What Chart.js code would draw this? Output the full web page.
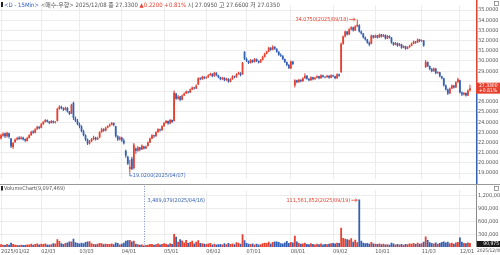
<!DOCTYPE html>
<html><head><meta charset="utf-8">
<script src="https://cdn.jsdelivr.net/npm/chart.js@4.4.1/dist/chart.umd.min.js"></script>
<style>
html,body{margin:0;padding:0;background:#fff;}
#wrap{position:relative;width:500px;height:255px;overflow:hidden;background:#fff;}
#pc{position:absolute;left:0;top:0;}
#vc{position:absolute;left:0;top:185px;}
#sep{position:absolute;left:0;top:184px;width:500px;height:1px;background:#9a9a9a;}
</style></head>
<body><div id="wrap"><canvas id="pc" width="500" height="184"></canvas><div id="sep"></div><canvas id="vc" width="500" height="70"></canvas></div>
<script>
const opens = [
22.40,22.65,22.90,22.60,22.90,22.40,21.55,22.05,22.30,22.50,
22.35,22.50,22.35,22.15,22.45,22.70,23.10,22.95,23.30,23.55,
23.45,23.80,24.00,24.20,24.05,23.90,24.10,23.95,24.10,25.30,
25.50,25.35,25.20,25.40,25.05,24.85,25.90,24.35,24.10,23.80,
23.60,23.10,22.70,22.30,21.90,22.10,22.35,22.50,22.30,22.50,
23.00,23.30,23.15,23.45,23.60,23.75,23.90,23.60,22.60,22.30,
22.50,22.20,21.20,20.60,19.40,20.40,19.50,21.40,21.20,21.50,
21.30,21.60,21.40,21.65,22.00,22.40,22.70,22.60,23.00,23.30,
23.20,23.60,23.90,24.10,23.85,24.20,24.10,26.80,26.30,26.50,
26.20,26.60,26.80,27.00,26.90,27.20,27.40,27.30,27.70,28.30,
28.20,28.45,28.30,28.40,28.60,28.75,28.50,28.85,28.60,28.40,
28.20,28.35,28.10,28.25,27.95,28.20,28.50,28.40,28.70,28.85,
28.70,30.90,30.20,30.00,29.80,30.10,29.90,30.20,30.00,29.85,
30.10,30.40,30.70,30.90,31.30,31.10,31.40,31.20,30.90,30.60,
30.50,30.20,29.90,29.60,29.25,29.95,27.60,28.10,27.90,28.15,
28.00,28.30,28.55,28.25,28.10,28.40,28.20,28.35,28.50,28.30,
28.60,28.45,28.40,28.55,28.35,28.60,28.50,28.30,28.70,28.90,
31.70,32.40,32.90,32.60,33.10,33.30,33.00,33.40,33.50,32.90,
32.70,32.30,32.10,31.80,31.70,32.50,32.30,32.50,32.30,32.60,
32.40,32.55,32.20,32.45,32.30,31.80,31.60,31.75,31.50,31.65,
31.30,31.45,31.20,31.35,31.50,31.70,31.90,31.80,32.10,31.95,
32.00,29.40,29.90,29.50,29.20,29.00,29.25,28.80,28.90,28.50,
28.30,27.60,27.20,26.80,27.30,27.60,27.40,27.90,28.10,26.90,
26.70,26.85,26.60,27.095];
const highs = [
22.85,23.00,22.95,23.05,22.95,22.45,22.05,22.40,22.55,22.60,
22.60,22.55,22.40,22.55,22.80,23.15,23.20,23.40,23.65,23.60,
23.90,24.10,24.30,24.25,24.10,24.20,24.15,24.10,25.40,25.65,
25.60,25.45,25.50,25.45,25.10,25.80,26.00,24.55,24.30,23.95,
23.70,23.25,22.80,22.40,22.25,22.45,22.65,22.55,22.55,23.10,
23.45,23.40,23.55,23.70,23.85,24.00,23.95,23.65,22.70,22.60,
22.55,22.40,21.30,20.70,20.30,20.60,21.95,21.50,21.65,21.55,
21.80,21.65,21.70,22.10,22.50,22.80,22.75,23.10,23.40,23.35,
23.70,24.00,24.20,24.15,24.30,24.25,27.10,26.85,26.65,26.55,
26.70,26.90,27.10,27.05,27.30,27.50,27.45,27.70,28.40,28.40,
28.55,28.50,28.50,28.70,28.85,28.80,28.95,28.90,28.65,28.45,
28.45,28.40,28.35,28.30,28.30,28.60,28.55,28.80,28.95,28.90,
29.90,30.95,30.35,30.05,30.20,30.15,30.30,30.25,30.05,30.20,
30.50,30.80,31.00,31.40,31.35,31.55,31.45,31.25,30.95,30.75,
30.55,30.25,29.95,29.70,30.05,30.00,28.20,28.15,28.25,28.20,
28.40,28.80,28.60,28.30,28.50,28.45,28.45,28.60,28.55,28.70,
28.65,28.50,28.65,28.60,28.70,28.65,28.55,28.80,28.75,31.80,
32.50,33.00,32.95,33.20,33.40,33.35,33.50,34.075,33.60,33.00,
32.75,32.40,32.15,31.90,32.60,32.55,32.60,32.55,32.70,32.65,
32.65,32.60,32.55,32.50,32.35,31.85,31.85,31.80,31.75,31.70,
31.55,31.50,31.45,31.60,31.80,32.00,31.95,32.20,32.15,32.10,
32.05,30.10,29.95,29.55,29.30,29.35,29.30,29.00,28.95,28.55,
28.35,27.70,27.30,27.40,27.70,27.65,28.00,28.35,28.15,27.00,
26.95,26.90,27.20,27.66];
const lows = [
22.30,22.55,22.45,22.50,22.40,21.45,21.35,21.95,22.20,22.25,
22.30,22.20,22.05,22.10,22.40,22.65,22.85,22.90,23.25,23.30,
23.40,23.75,23.95,23.95,23.80,23.85,23.85,23.85,24.05,25.20,
25.25,25.10,25.15,24.95,24.70,24.80,24.20,24.00,23.70,23.40,
23.00,22.60,22.15,21.75,21.80,22.05,22.25,22.20,22.25,22.45,
22.95,23.05,23.10,23.40,23.55,23.70,23.60,22.50,22.15,22.20,
22.05,21.80,20.50,19.80,19.02,19.30,19.35,20.90,21.10,21.15,
21.25,21.30,21.35,21.60,21.95,22.35,22.45,22.55,22.95,23.05,
23.15,23.55,23.85,23.75,23.80,23.90,24.05,26.20,26.20,26.05,
26.15,26.55,26.75,26.80,26.85,27.15,27.20,27.25,27.65,28.10,
28.15,28.20,28.25,28.35,28.55,28.40,28.45,28.50,28.30,28.10,
28.15,28.00,28.05,27.85,27.90,28.15,28.30,28.35,28.65,28.50,
28.65,30.10,29.90,29.70,29.75,29.80,29.85,29.90,29.75,29.80,
30.05,30.35,30.65,30.85,31.00,31.05,31.10,30.80,30.50,30.40,
30.10,29.80,29.50,29.20,29.20,29.60,27.40,27.80,27.85,27.90,
27.95,28.25,28.15,28.00,28.05,28.10,28.15,28.30,28.20,28.25,
28.35,28.30,28.35,28.25,28.30,28.40,28.20,28.25,28.45,28.85,
31.60,32.30,32.50,32.55,33.00,32.90,32.95,33.30,32.80,32.60,
32.20,32.00,31.70,31.45,31.65,32.20,32.25,32.20,32.25,32.30,
32.35,32.10,32.15,32.20,31.70,31.50,31.55,31.40,31.45,31.20,
31.25,31.10,31.15,31.30,31.45,31.65,31.70,31.75,31.85,31.85,
31.40,29.30,29.40,29.10,28.90,28.95,28.70,28.75,28.40,28.20,
27.50,27.10,26.65,26.75,27.25,27.30,27.35,27.85,26.80,26.55,
26.60,26.50,26.55,27.035];
const closes = [
22.70,22.85,22.60,22.95,22.55,21.60,21.95,22.30,22.45,22.35,
22.50,22.30,22.20,22.45,22.70,23.05,22.95,23.30,23.55,23.40,
23.80,24.00,24.20,24.05,23.90,24.10,23.95,24.00,25.30,25.50,
25.35,25.20,25.40,25.05,24.80,25.70,24.40,24.10,23.80,23.60,
23.10,22.70,22.30,21.90,22.10,22.35,22.50,22.30,22.45,23.00,
23.30,23.15,23.45,23.60,23.75,23.90,23.70,22.60,22.30,22.50,
22.20,21.90,20.70,19.90,19.60,19.40,21.80,21.20,21.50,21.30,
21.70,21.40,21.60,22.00,22.40,22.70,22.60,23.00,23.30,23.20,
23.60,23.90,24.10,23.85,24.20,24.00,26.90,26.30,26.50,26.20,
26.60,26.80,27.00,26.90,27.20,27.40,27.30,27.60,28.30,28.20,
28.45,28.30,28.40,28.60,28.75,28.50,28.85,28.60,28.40,28.20,
28.35,28.10,28.25,27.95,28.20,28.50,28.40,28.70,28.85,28.60,
29.80,30.20,30.00,29.80,30.10,29.90,30.20,30.00,29.85,30.10,
30.40,30.70,30.90,31.30,31.10,31.40,31.20,30.90,30.60,30.50,
30.20,29.90,29.60,29.30,29.95,29.70,28.10,27.90,28.15,28.00,
28.30,28.55,28.25,28.10,28.40,28.20,28.35,28.50,28.30,28.60,
28.45,28.40,28.55,28.35,28.60,28.50,28.30,28.70,28.55,31.70,
32.40,32.90,32.60,33.10,33.30,33.00,33.40,33.55,32.90,32.70,
32.30,32.10,31.80,31.60,32.50,32.30,32.50,32.30,32.60,32.40,
32.55,32.20,32.45,32.30,31.80,31.60,31.75,31.50,31.65,31.30,
31.45,31.20,31.35,31.50,31.70,31.90,31.80,32.10,31.95,32.00,
31.50,29.90,29.50,29.20,29.00,29.25,28.80,28.90,28.50,28.30,
27.60,27.20,26.80,27.30,27.60,27.40,27.90,28.20,26.90,26.70,
26.85,26.60,27.11,27.33];
// volume in millions of shares
const volumes = [
6.2,5.1,4.8,7.0,5.5,9.8,7.2,5.0,4.6,4.2,5.3,4.9,4.4,5.8,6.1,7.4,5.2,6.8,8.1,5.9,
7.5,6.9,8.4,5.6,5.1,6.3,9.0,8.0,18.2,14.1,8.6,7.0,9.3,10.5,12.8,13.0,19.6,11.2,9.4,
8.2,10.1,9.0,11.5,12.9,13.4,8.8,7.1,6.5,7.6,9.2,8.7,6.4,7.8,6.9,7.3,8.0,6.6,10.3,9.5,6.0,
7.4,9.9,14.8,15.6,16.2,13.0,14.5,7.7,6.3,5.2,5.8,3.489079,4.7,5.5,6.8,7.0,5.4,6.6,8.2,5.7,7.3,
8.5,7.9,6.1,9.0,7.2,30.5,24.1,12.3,18.0,15.2,10.8,16.5,9.4,12.0,14.6,8.3,12.4,15.8,9.6,8.8,7.5,
6.9,8.3,9.1,6.0,7.7,5.9,6.4,7.2,5.6,8.6,6.2,9.5,7.0,8.4,6.7,11.3,9.8,7.4,29.8,16.0,
9.2,7.5,6.8,8.1,6.0,7.7,5.8,6.5,8.9,10.2,9.4,12.1,8.0,11.5,12.6,13.0,11.8,9.0,8.3,10.4,14.2,9.6,
12.0,10.5,26.3,12.8,9.1,7.6,8.4,10.0,7.2,6.5,8.8,7.0,6.1,7.9,6.6,8.3,5.9,7.1,6.4,7.8,8.5,
9.2,8.0,10.1,9.4,45.2,21.0,19.5,18.3,16.8,20.4,12.5,17.2,11.0,111.561852,14.8,10.2,8.6,9.3,7.8,12.0,8.1,
7.4,6.8,8.0,6.2,7.5,5.9,6.7,5.4,9.8,8.2,6.1,7.3,5.8,6.9,5.5,7.0,6.3,8.4,7.6,9.1,6.8,10.0,7.7,
8.9,12.5,24.6,16.3,11.0,9.2,8.1,10.4,7.5,9.6,11.8,13.0,10.7,12.2,8.6,9.9,7.4,10.8,11.5,
22.4,12.1,9.5,8.7,10.3,9.097469];
const holidays = ['2025-01-01','2025-01-09','2025-01-20','2025-02-17','2025-04-18','2025-05-26','2025-06-19','2025-07-04','2025-09-01','2025-11-27'];
const monthTicks = ['2025/01/02','02/03','03/03','04/01','05/01','06/02','07/01','08/01','09/02','10/01','11/03','12/01'];
const priceTicks = [19,20,21,22,23,24,25,26,27,28,29,30,31,32,33,34,35];
const volTicks = [30,60,90,120];
const prevClose = 27.11;

const RED='#e6402f', BLUE='#3561b4', GRID='#ececec', TXT='#555555';
const FF="'Liberation Sans Narrow','DejaVu Sans Condensed','Liberation Sans',Arial,'Noto Sans CJK KR',sans-serif";
Chart.defaults.font.family=FF;

const n = closes.length;
const dates=[];
for(let d=new Date(Date.UTC(2025,0,1)); dates.length<n; d.setUTCDate(d.getUTCDate()+1)){
  const w=d.getUTCDay(); if(w===0||w===6) continue;
  const s=d.toISOString().slice(0,10); if(holidays.includes(s)) continue;
  dates.push(s);
}
const monthIdx=[]; dates.forEach((s,i)=>{ if(i===0||s.slice(5,7)!==dates[i-1].slice(5,7)) monthIdx.push(i); });
const fmtDate = s=>s.replace(/-/g,'/');
const idx = closes.map((_,i)=>i);
const colors = idx.map(i=>closes[i]>=opens[i]?RED:BLUE);

function txt(ctx,s,x,y,color,size,align){
  ctx.save(); ctx.font=size+'px '+FF; ctx.fillStyle=color; ctx.textAlign=align||'left'; ctx.textBaseline='middle';
  ctx.fillText(s,x,y); const w=ctx.measureText(s).width; ctx.restore(); return w;
}
function icon(ctx,x,y){ ctx.save(); ctx.strokeStyle='#777'; ctx.lineWidth=0.7; ctx.strokeRect(x+0.5,y+0.5,4,4); ctx.restore(); }

const xCommon = {type:'linear', min:-0.5, max:236, offset:false,
  afterBuildTicks:s=>{ s.ticks = monthIdx.map(v=>({value:v})); },
  grid:{color:GRID, drawTicks:false, offset:false}, border:{display:false}};

const pricePlugin = {id:'pp', afterDraw(c){
  const ctx=c.ctx, xs=c.scales.x, ys=c.scales.y, a=c.chartArea;
  const last=closes[n-1], yP=ys.getPixelForValue(last);
  ctx.save(); ctx.lineWidth=1.5;
  ctx.strokeStyle=RED; ctx.beginPath(); ctx.moveTo(a.right+0.75,0); ctx.lineTo(a.right+0.75,yP); ctx.stroke();
  ctx.strokeStyle=BLUE; ctx.beginPath(); ctx.moveTo(a.right+0.75,yP); ctx.lineTo(a.right+0.75,c.height); ctx.stroke();
  ctx.fillStyle=RED; ctx.fillRect(a.right,yP-5.5,c.width-a.right,11);
  ctx.restore();
  const chg=last-prevClose, pct=(chg/prevClose*100).toFixed(2);
  txt(ctx,last.toFixed(4),a.right+3,yP-2.6,'#fff',5);
  txt(ctx,'+'+pct+'%',a.right+3,yP+2.7,'#fff',5);
  icon(ctx,494,1);
  // header
  ctx.save(); ctx.fillStyle='#222'; ctx.fillRect(1,2,2,5); ctx.restore();
  let x=4; const hy=5, hs=6;
  const segs=[['<D - 15Min>','#2d5bc0'],[' <매수-우향> ',TXT],[fmtDate(dates[n-1])+' 종 '+last.toFixed(4)+' ',TXT],
    ['▲'+chg.toFixed(4)+' +'+pct+'%',RED],[' 시 '+opens[n-1].toFixed(4)+' 고 '+highs[n-1].toFixed(4)+' 저 '+lows[n-1].toFixed(4),TXT]];
  segs.forEach(s=>{ x+=txt(ctx,s[0],x,hy,s[1],hs); });
  // high marker
  let iH=0; highs.forEach((v,i)=>{ if(v>highs[iH]) iH=i; });
  const hx=xs.getPixelForValue(iH), hyy=ys.getPixelForValue(highs[iH]);
  txt(ctx,highs[iH].toFixed(4)+'('+fmtDate(dates[iH])+')',hx-9,hyy,RED,5.5,'right');
  ctx.save(); ctx.strokeStyle=RED; ctx.lineWidth=0.8; ctx.beginPath(); ctx.moveTo(hx-8,hyy); ctx.lineTo(hx-2,hyy); ctx.moveTo(hx-4,hyy-1.5); ctx.lineTo(hx-2,hyy); ctx.lineTo(hx-4,hyy+1.5); ctx.stroke(); ctx.restore();
  // low marker
  let iL=0; lows.forEach((v,i)=>{ if(v<lows[iL]) iL=i; });
  const lx=xs.getPixelForValue(iL), ly=ys.getPixelForValue(lows[iL]);
  ctx.save(); ctx.strokeStyle=BLUE; ctx.lineWidth=0.8; ctx.beginPath(); ctx.moveTo(lx,ly); ctx.lineTo(lx,ly+3); ctx.lineTo(lx+2.5,ly+3); ctx.stroke(); ctx.restore();
  txt(ctx,lows[iL].toFixed(4)+'('+fmtDate(dates[iL])+')',lx+3,ly+2.6,BLUE,5.5);
}};

new Chart(document.getElementById('pc'),{
  type:'bar',
  data:{datasets:[
    {data:idx.map(i=>({x:i,y:[lows[i],highs[i]]})), backgroundColor:colors, barThickness:1, grouped:false, inflateAmount:0, order:2},
    {data:idx.map(i=>({x:i,y:[opens[i],closes[i]]})), backgroundColor:colors, barThickness:1.8, grouped:false, inflateAmount:0, order:1}
  ]},
  options:{responsive:false, animation:false, events:[], layout:{padding:0},
    plugins:{legend:{display:false}, tooltip:{enabled:false}},
    scales:{
      x:Object.assign({}, xCommon, {ticks:{display:false}}),
      y:{position:'right', min:18.445, max:35.462,
        afterBuildTicks:s=>{ s.ticks = priceTicks.map(v=>({value:v})); },
        afterFit:s=>{ s.width=24; },
        ticks:{callback:v=>(v===27||v===28)?'':v.toFixed(4), font:{size:5.5}, color:TXT, padding:2},
        grid:{color:GRID, drawTicks:false}, border:{display:false}}
    }},
  plugins:[pricePlugin]
});

const volPlugin = {id:'vp', afterDraw(c){
  const ctx=c.ctx, xs=c.scales.x, ys=c.scales.y, a=c.chartArea;
  ctx.save(); ctx.strokeStyle='#8a8a8a'; ctx.lineWidth=1; ctx.beginPath(); ctx.moveTo(a.right+0.5,0); ctx.lineTo(a.right+0.5,a.bottom); ctx.stroke(); ctx.restore();
  ctx.save(); ctx.fillStyle='#222'; ctx.fillRect(1,1,2,4.5); ctx.restore();
  const last=volumes[n-1];
  txt(ctx,'VolumeChart('+Math.round(last*1e6).toLocaleString('en-US')+')',4,3.3,TXT,5.5);
  icon(ctx,494,1);
  // min
  let iMin=0; volumes.forEach((v,i)=>{ if(v<volumes[iMin]) iMin=i; });
  const mx=Math.round(xs.getPixelForValue(iMin))+0.5;
  ctx.save(); ctx.strokeStyle='#7d8fc8'; ctx.lineWidth=1; ctx.setLineDash([1,1.5]); ctx.beginPath(); ctx.moveTo(mx,1); ctx.lineTo(mx,a.bottom); ctx.stroke(); ctx.restore();
  txt(ctx,Math.round(volumes[iMin]*1e6).toLocaleString('en-US')+'('+fmtDate(dates[iMin])+')',mx+3,15.5,BLUE,5.5);
  // max
  let iMax=0; volumes.forEach((v,i)=>{ if(v>volumes[iMax]) iMax=i; });
  const vx=xs.getPixelForValue(iMax), vy=ys.getPixelForValue(volumes[iMax]);
  txt(ctx,Math.round(volumes[iMax]*1e6).toLocaleString('en-US')+'('+fmtDate(dates[iMax])+')',vx-9,vy+0.8,RED,5.5,'right');
  ctx.save(); ctx.strokeStyle=RED; ctx.lineWidth=0.8; ctx.beginPath(); ctx.moveTo(vx-8,vy+0.8); ctx.lineTo(vx-2,vy+0.8); ctx.moveTo(vx-4,vy-0.7); ctx.lineTo(vx-2,vy+0.8); ctx.lineTo(vx-4,vy+2.3); ctx.stroke(); ctx.restore();
  // current volume box
  const ly=Math.min(ys.getPixelForValue(last)+1,a.bottom-3);
  ctx.save(); ctx.fillStyle='#1a1a1a'; ctx.fillRect(a.right+1,ly-3,c.width-a.right-1,6); ctx.restore();
  txt(ctx,Math.round(last*1e6/100).toLocaleString('en-US'),c.width-1,ly,'#fff',5,'right');
  // current date label (clipped at the right edge)
  ctx.save(); ctx.fillStyle='#fff'; ctx.fillRect(a.right+0.5,a.bottom+1,c.width-a.right,c.height-a.bottom-1); ctx.restore();
  txt(ctx,fmtDate(dates[n-1]),a.right+1,a.bottom+4.2,TXT,4.8,'left');
}};

new Chart(document.getElementById('vc'),{
  type:'bar',
  data:{datasets:[{data:idx.map(i=>({x:i,y:volumes[i]})), backgroundColor:colors, barThickness:1.8, inflateAmount:0}]},
  options:{responsive:false, animation:false, events:[], layout:{padding:0},
    plugins:{legend:{display:false}, tooltip:{enabled:false}},
    scales:{
      x:Object.assign({}, xCommon, {
        afterFit:s=>{ s.height=8; },
        ticks:{align:'start', autoSkip:false, maxRotation:0, padding:1, font:{size:5.5}, color:TXT,
          callback:v=>{ const k=monthIdx.indexOf(v); return k>=0?monthTicks[k]:''; }}}),
      y:{position:'right', min:0, max:132.9,
        afterBuildTicks:s=>{ s.ticks = volTicks.map(v=>({value:v})); },
        afterFit:s=>{ s.width=24; },
        ticks:{callback:v=>(v*10000).toLocaleString('en-US'), font:{size:5.5}, color:TXT, padding:2},
        grid:{color:GRID, drawTicks:false}, border:{display:false}}
    }},
  plugins:[volPlugin]
});
</script>
</body></html>
